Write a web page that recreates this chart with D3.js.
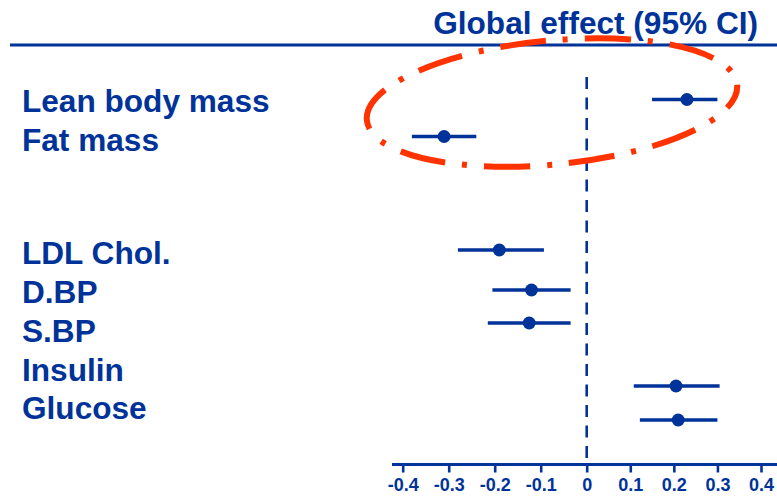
<!DOCTYPE html>
<html>
<head>
<meta charset="utf-8">
<script src="https://cdn.jsdelivr.net/npm/d3@7"></script>
<style>
  html, body { margin: 0; padding: 0; background: #ffffff; }
  svg { display: block; }
  text { font-family: "Liberation Sans", Arial, Helvetica, sans-serif; font-weight: bold; }
</style>
</head>
<body>
<svg id="chart" width="777" height="497"></svg>
<script>
// Outcomes and their global effect estimates with 95% confidence limits
const outcomes = ["Lean body mass", "Fat mass", "LDL Chol.", "D.BP", "S.BP", "Insulin", "Glucose"];
const effect   = [0.23, -0.31, -0.19, -0.12, -0.125, 0.205, 0.21];
const ciLow    = [0.15, -0.38, -0.28, -0.205, -0.215, 0.108, 0.122];
const ciHigh   = [0.30, -0.24, -0.093, -0.035, -0.035, 0.305, 0.30];
const tickValues = [-0.4, -0.3, -0.2, -0.1, 0, 0.1, 0.2, 0.3, 0.4];
const tickLabels = ["-0.4", "-0.3", "-0.2", "-0.1", "0", "0.1", "0.2", "0.3", "0.4"];
const title = "Global effect (95% CI)";

const BLUE = "#003399";
const RED = "#ff3300";

const rows = outcomes.map((name, i) => ({ name, effect: effect[i], lo: ciLow[i], hi: ciHigh[i] }));

const svg = d3.select("#chart");

// Effect axis: zero sits a little right of the midpoint of the drawn range
const x = d3.scaleLinear().domain([-0.4, 0, 0.4]).range([402.7, 586.7, 761]);

// Vertical placement of the estimate rows and of the outcome names
const yMark = d3.scaleOrdinal().domain(outcomes).range([99.5, 136.5, 250, 290, 323, 386, 420]);
const yLabel = d3.scaleOrdinal().domain(outcomes).range([112, 151, 264, 303, 342, 381, 419]);

const axisY = 464.5;

// Title and rule beneath it
svg.append("text")
  .attr("x", 758).attr("y", 33.5)
  .attr("text-anchor", "end")
  .attr("font-size", 31.6)
  .attr("fill", BLUE)
  .text(title);

svg.append("line")
  .attr("x1", 10).attr("x2", 777)
  .attr("y1", 45).attr("y2", 45)
  .attr("stroke", BLUE).attr("stroke-width", 3);

// Outcome names
svg.append("g").selectAll("text")
  .data(rows).join("text")
  .attr("x", 22)
  .attr("y", d => yLabel(d.name))
  .attr("font-size", 31.6)
  .attr("fill", BLUE)
  .text(d => d.name);

// Line of no effect
svg.append("line")
  .attr("x1", x(0)).attr("x2", x(0))
  .attr("y1", 77).attr("y2", axisY)
  .attr("stroke", BLUE).attr("stroke-width", 2.6)
  .attr("stroke-dasharray", "12,8.5");

// Bottom axis
const axis = d3.axisBottom(x)
  .tickValues(tickValues)
  .tickFormat((d, i) => tickLabels[i])
  .tickSize(8)
  .tickPadding(6);

const gAxis = svg.append("g")
  .attr("transform", `translate(0,${axisY})`)
  .call(axis);
gAxis.select(".domain").remove();
gAxis.selectAll(".tick line").attr("stroke", BLUE).attr("stroke-width", 2.6);
gAxis.selectAll(".tick text")
  .attr("fill", BLUE)
  .attr("font-size", 18)
  .attr("font-family", "'Liberation Sans', Arial, sans-serif")
  .attr("font-weight", "bold");
gAxis.append("line")
  .attr("x1", 392).attr("x2", 777)
  .attr("y1", 0).attr("y2", 0)
  .attr("stroke", BLUE).attr("stroke-width", 3);

// Confidence intervals and point estimates
const marks = svg.append("g");
marks.selectAll("line.ci")
  .data(rows).join("line")
  .attr("class", "ci")
  .attr("x1", d => x(d.lo)).attr("x2", d => x(d.hi))
  .attr("y1", d => yMark(d.name)).attr("y2", d => yMark(d.name))
  .attr("stroke", BLUE).attr("stroke-width", 3.4);

marks.selectAll("circle")
  .data(rows).join("circle")
  .attr("cx", d => x(d.effect))
  .attr("cy", d => yMark(d.name))
  .attr("r", 6.5)
  .attr("fill", BLUE);

// Dash-dot ellipse around the body-composition estimates
const cx = 552, cy = 102.5;
svg.append("ellipse")
  .attr("cx", cx).attr("cy", cy)
  .attr("rx", 186).attr("ry", 62)
  .attr("transform", `rotate(-5.5,${cx},${cy})`)
  .attr("fill", "none")
  .attr("stroke", RED)
  .attr("stroke-width", 6)
  .attr("stroke-dasharray", "46,17,5,17")
  .attr("stroke-dashoffset", 20);
</script>
</body>
</html>
